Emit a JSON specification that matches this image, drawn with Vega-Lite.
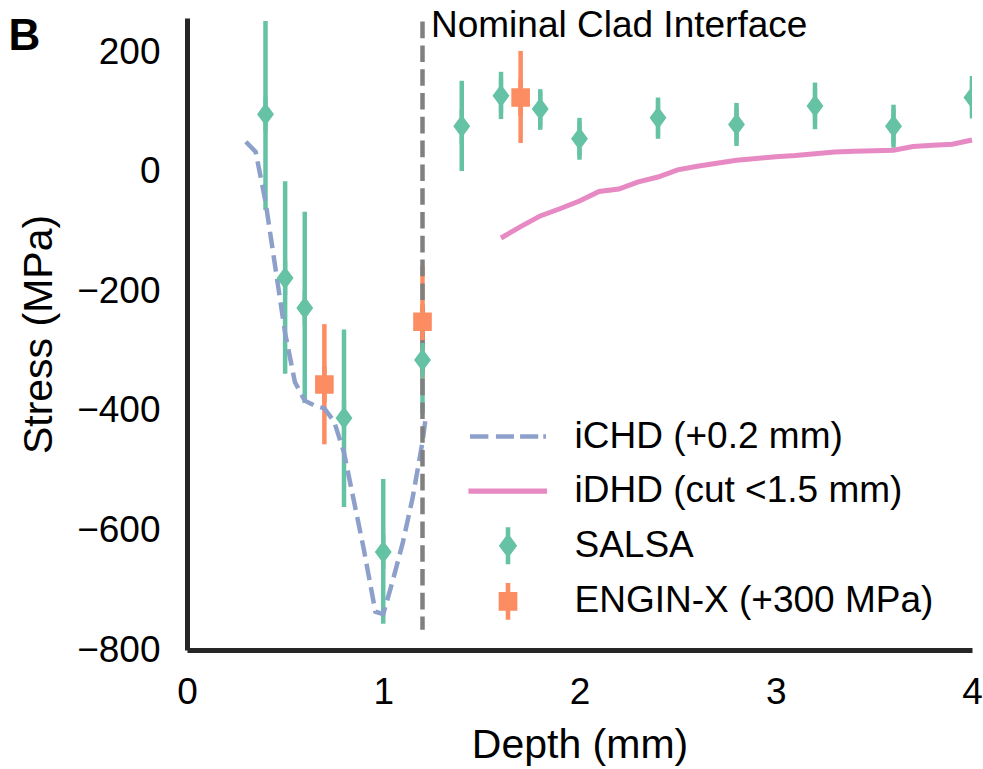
{
  "$schema": "https://vega.github.io/schema/vega-lite/v6.json",
  "width": 785,
  "height": 632,
  "autosize": {"type": "none"},
  "padding": {"left": 187, "top": 18, "right": 11, "bottom": 119},
  "background": "white",
  "datasets": {
    "pts": [
      {"series": "SALSA", "depth": 0.4, "stress": 96, "lo": -64, "hi": 252},
      {"series": "SALSA", "depth": 0.5, "stress": -178, "lo": -338, "hi": -16},
      {"series": "SALSA", "depth": 0.6, "stress": -228, "lo": -387, "hi": -67},
      {"series": "SALSA", "depth": 0.8, "stress": -412, "lo": -561, "hi": -264},
      {"series": "SALSA", "depth": 1.0, "stress": -636, "lo": -756, "hi": -514},
      {"series": "SALSA", "depth": 1.2, "stress": -315, "lo": -404, "hi": -226},
      {"series": "SALSA", "depth": 1.4, "stress": 76, "lo": 1, "hi": 152},
      {"series": "SALSA", "depth": 1.6, "stress": 127, "lo": 88, "hi": 167},
      {"series": "SALSA", "depth": 1.8, "stress": 105, "lo": 70, "hi": 138},
      {"series": "SALSA", "depth": 2.0, "stress": 55, "lo": 20, "hi": 90},
      {"series": "SALSA", "depth": 2.4, "stress": 90, "lo": 55, "hi": 124},
      {"series": "SALSA", "depth": 2.8, "stress": 79, "lo": 43, "hi": 115},
      {"series": "SALSA", "depth": 3.2, "stress": 110, "lo": 71, "hi": 149},
      {"series": "SALSA", "depth": 3.6, "stress": 76, "lo": 40, "hi": 112},
      {"series": "SALSA", "depth": 4.0, "stress": 124, "lo": 89, "hi": 160},
      {"series": "ENGIN-X (+300 MPa)", "depth": 0.7, "stress": -356, "lo": -456, "hi": -255},
      {"series": "ENGIN-X (+300 MPa)", "depth": 1.2, "stress": -251, "lo": -344, "hi": -158},
      {"series": "ENGIN-X (+300 MPa)", "depth": 1.7, "stress": 124, "lo": 48, "hi": 202}
    ],
    "curves": [
      {"series": "iCHD (+0.2 mm)", "depth": 0.30, "stress": 50},
      {"series": "iCHD (+0.2 mm)", "depth": 0.35, "stress": 33},
      {"series": "iCHD (+0.2 mm)", "depth": 0.40, "stress": -50},
      {"series": "iCHD (+0.2 mm)", "depth": 0.45, "stress": -160},
      {"series": "iCHD (+0.2 mm)", "depth": 0.50, "stress": -270},
      {"series": "iCHD (+0.2 mm)", "depth": 0.55, "stress": -352},
      {"series": "iCHD (+0.2 mm)", "depth": 0.60, "stress": -383},
      {"series": "iCHD (+0.2 mm)", "depth": 0.65, "stress": -391},
      {"series": "iCHD (+0.2 mm)", "depth": 0.70, "stress": -396},
      {"series": "iCHD (+0.2 mm)", "depth": 0.75, "stress": -418},
      {"series": "iCHD (+0.2 mm)", "depth": 0.80, "stress": -470},
      {"series": "iCHD (+0.2 mm)", "depth": 0.85, "stress": -550},
      {"series": "iCHD (+0.2 mm)", "depth": 0.90, "stress": -630},
      {"series": "iCHD (+0.2 mm)", "depth": 0.96, "stress": -736},
      {"series": "iCHD (+0.2 mm)", "depth": 1.00, "stress": -740},
      {"series": "iCHD (+0.2 mm)", "depth": 1.05, "stress": -682},
      {"series": "iCHD (+0.2 mm)", "depth": 1.10, "stress": -620},
      {"series": "iCHD (+0.2 mm)", "depth": 1.15, "stress": -545},
      {"series": "iCHD (+0.2 mm)", "depth": 1.20, "stress": -452},
      {"series": "iCHD (+0.2 mm)", "depth": 1.215, "stress": -415},
      {"series": "iDHD (cut <1.5 mm)", "depth": 1.6, "stress": -111},
      {"series": "iDHD (cut <1.5 mm)", "depth": 1.7, "stress": -92},
      {"series": "iDHD (cut <1.5 mm)", "depth": 1.8, "stress": -74},
      {"series": "iDHD (cut <1.5 mm)", "depth": 1.9, "stress": -62},
      {"series": "iDHD (cut <1.5 mm)", "depth": 2.0, "stress": -49},
      {"series": "iDHD (cut <1.5 mm)", "depth": 2.1, "stress": -33},
      {"series": "iDHD (cut <1.5 mm)", "depth": 2.2, "stress": -29},
      {"series": "iDHD (cut <1.5 mm)", "depth": 2.3, "stress": -17},
      {"series": "iDHD (cut <1.5 mm)", "depth": 2.4, "stress": -9},
      {"series": "iDHD (cut <1.5 mm)", "depth": 2.5, "stress": 3},
      {"series": "iDHD (cut <1.5 mm)", "depth": 2.6, "stress": 9},
      {"series": "iDHD (cut <1.5 mm)", "depth": 2.7, "stress": 14},
      {"series": "iDHD (cut <1.5 mm)", "depth": 2.8, "stress": 19},
      {"series": "iDHD (cut <1.5 mm)", "depth": 2.9, "stress": 22},
      {"series": "iDHD (cut <1.5 mm)", "depth": 3.0, "stress": 25},
      {"series": "iDHD (cut <1.5 mm)", "depth": 3.1, "stress": 27},
      {"series": "iDHD (cut <1.5 mm)", "depth": 3.2, "stress": 30},
      {"series": "iDHD (cut <1.5 mm)", "depth": 3.3, "stress": 33},
      {"series": "iDHD (cut <1.5 mm)", "depth": 3.4, "stress": 34},
      {"series": "iDHD (cut <1.5 mm)", "depth": 3.5, "stress": 35},
      {"series": "iDHD (cut <1.5 mm)", "depth": 3.6, "stress": 36},
      {"series": "iDHD (cut <1.5 mm)", "depth": 3.7, "stress": 42},
      {"series": "iDHD (cut <1.5 mm)", "depth": 3.8, "stress": 44},
      {"series": "iDHD (cut <1.5 mm)", "depth": 3.9, "stress": 46},
      {"series": "iDHD (cut <1.5 mm)", "depth": 4.0, "stress": 53}
    ],
    "iface": [
      {"depth": 1.2, "label": "Nominal Clad Interface"}
    ],
    "panel": [
      {"label": "B"}
    ]
  },
  "layer": [
    {
      "data": {"name": "pts"},
      "transform": [{"filter": {"field": "series", "equal": "SALSA"}}],
      "mark": {"type": "rule", "strokeWidth": 4.5, "clip": true, "color": "#66c2a5"},
      "encoding": {
        "x": {"field": "depth", "type": "quantitative", "title": "Depth (mm)",
              "scale": {"domain": [0, 4], "nice": false, "zero": false},
              "axis": {"values": [0, 1, 2, 3, 4], "format": "d", "labelPadding": 24, "titlePadding": 15, "labelFlush": false, "labelOverlap": false}},
        "y": {"field": "lo", "type": "quantitative", "title": "Stress (MPa)",
              "scale": {"domain": [-800, 257], "nice": false, "zero": false},
              "axis": {"values": [-800, -600, -400, -200, 0, 200], "format": "d", "labelPadding": 27, "titlePadding": 16, "labelFlush": false, "labelOverlap": false}},
        "y2": {"field": "hi"}
      }
    },
    {
      "data": {"name": "pts"},
      "transform": [{"filter": {"field": "series", "equal": "ENGIN-X (+300 MPa)"}}],
      "mark": {"type": "rule", "strokeWidth": 4.5, "clip": true, "color": "#fc8d62"},
      "encoding": {
        "x": {"field": "depth", "type": "quantitative"},
        "y": {"field": "lo", "type": "quantitative"},
        "y2": {"field": "hi"}
      }
    },
    {
      "data": {"name": "curves"},
      "transform": [{"filter": {"field": "series", "equal": "iCHD (+0.2 mm)"}}],
      "mark": {"type": "line", "color": "#8da0cb", "strokeWidth": 4.5, "strokeDash": [16.6, 7.2]},
      "encoding": {
        "x": {"field": "depth", "type": "quantitative"},
        "y": {"field": "stress", "type": "quantitative"}
      }
    },
    {
      "data": {"name": "curves"},
      "transform": [{"filter": {"field": "series", "equal": "iDHD (cut <1.5 mm)"}}],
      "mark": {"type": "line", "color": "#e78ac3", "strokeWidth": 5},
      "encoding": {
        "x": {"field": "depth", "type": "quantitative"},
        "y": {"field": "stress", "type": "quantitative"}
      }
    },
    {
      "data": {"name": "iface"},
      "mark": {"type": "rule", "color": "#808080", "strokeWidth": 4.5, "strokeDash": [16.6, 7.2]},
      "encoding": {
        "x": {"field": "depth", "type": "quantitative"},
        "y": {"datum": 251},
        "y2": {"datum": -766}
      }
    },
    {
      "data": {"name": "iface"},
      "mark": {"type": "text", "align": "left", "baseline": "alphabetic", "dx": 8.5, "fontSize": 37, "color": "black", "font": "Liberation Sans"},
      "encoding": {
        "x": {"field": "depth", "type": "quantitative"},
        "y": {"datum": 225},
        "text": {"field": "label"}
      }
    },
    {
      "data": {"name": "panel"},
      "mark": {"type": "text", "align": "left", "baseline": "alphabetic", "fontSize": 44, "fontWeight": "bold", "color": "black", "font": "Liberation Sans"},
      "encoding": {
        "x": {"datum": -0.91},
        "y": {"datum": 204},
        "text": {"field": "label"}
      }
    },
    {
      "data": {"name": "pts"},
      "transform": [{"filter": {"field": "series", "equal": "SALSA"}}],
      "mark": {"type": "point", "filled": true, "opacity": 1, "size": 1100, "clip": true},
      "encoding": {
        "x": {"field": "depth", "type": "quantitative"},
        "y": {"field": "stress", "type": "quantitative"},
        "color": {"field": "series", "type": "nominal",
                  "scale": {"domain": ["iCHD (+0.2 mm)", "iDHD (cut <1.5 mm)", "SALSA", "ENGIN-X (+300 MPa)"],
                            "range": ["#8da0cb", "#e78ac3", "#66c2a5", "#fc8d62"]},
                  "legend": {"title": null, "orient": "none", "legendX": 302.5, "legendY": 400, "direction": "vertical", "columns": 1, "symbolSize": 1296, "symbolStrokeWidth": 0, "labelFontSize": 37, "labelFont": "Liberation Sans", "labelColor": "black", "labelOffset": 48, "rowPadding": 16.6, "labelLimit": 1000, "padding": 0, "symbolOpacity": 1}},
        "shape": {"field": "series", "type": "nominal",
                  "scale": {"domain": ["iCHD (+0.2 mm)", "iDHD (cut <1.5 mm)", "SALSA", "ENGIN-X (+300 MPa)"],
                            "range": [
                              "M-2.11,-0.125H-1.09V0.125H-2.11Z M-0.67,-0.125H0.33V0.125H-0.67Z M0.67,-0.125H1.68V0.125H0.67Z M1.96,-0.125H2.11V0.125H1.96Z",
                              "M-2.2,-0.15H2.17V0.15H-2.2Z",
                              "M-0.128,-1.03H0.128V1.03H-0.128Z M0,-0.69L0.51,0L0,0.69L-0.51,0Z",
                              "M-0.128,-1.02H0.128V1.02H-0.128Z M-0.52,-0.52H0.52V0.52H-0.52Z"
                            ]},
                  "legend": {"title": null, "orient": "none", "legendX": 302.5, "legendY": 400, "direction": "vertical", "columns": 1, "symbolSize": 1296, "symbolStrokeWidth": 0, "labelFontSize": 37, "labelFont": "Liberation Sans", "labelColor": "black", "labelOffset": 48, "rowPadding": 16.6, "labelLimit": 1000, "padding": 0, "symbolOpacity": 1}}
      }
    },
    {
      "data": {"name": "pts"},
      "transform": [{"filter": {"field": "series", "equal": "ENGIN-X (+300 MPa)"}}],
      "mark": {"type": "point", "filled": true, "opacity": 1, "size": 1282, "clip": true, "color": "#fc8d62",
               "shape": "M-0.128,-1.02H0.128V1.02H-0.128Z M-0.52,-0.52H0.52V0.52H-0.52Z"},
      "encoding": {
        "x": {"field": "depth", "type": "quantitative"},
        "y": {"field": "stress", "type": "quantitative"}
      }
    }
  ],
  "config": {
    "font": "Liberation Sans",
    "view": {"stroke": null},
    "axis": {
      "domainColor": "#262626",
      "domainWidth": 5,
      "ticks": false,
      "grid": false,
      "labelFont": "Liberation Sans",
      "labelFontSize": 37,
      "labelColor": "black",
      "titleFont": "Liberation Sans",
      "titleFontSize": 41,
      "titleColor": "black",
      "titleFontWeight": "normal"
    }
  }
}
